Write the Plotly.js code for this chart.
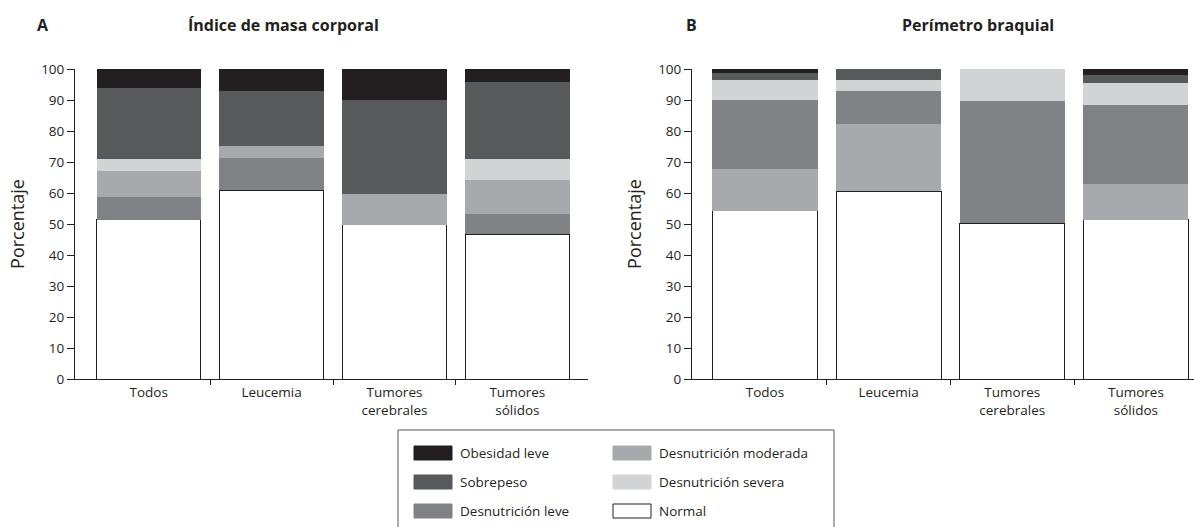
<!DOCTYPE html>
<html>
<head>
<meta charset="utf-8">
<script src="https://cdn.plot.ly/plotly-3.0.1.min.js"></script>
<style>html,body{margin:0;padding:0;background:#fff;}#chart{width:1194px;height:527px;}</style>
</head>
<body>
<div id="chart"></div>
<script>
// ---------- DATA ----------
const categories = ['Todos', 'Leucemia', 'Tumores<br>cerebrales', 'Tumores<br>sólidos'];
const yTicks = [0, 10, 20, 30, 40, 50, 60, 70, 80, 90, 100];

// Panel A: Índice de masa corporal (stack order bottom → top)
const normal_A      = [51.3, 60.9, 49.7, 46.7];
const desnLeve_A    = [7.4, 10.4, 0, 6.5];
const desnMod_A     = [8.5, 4.0, 10.0, 11.0];
const desnSev_A     = [3.8, 0, 0, 6.8];
const sobrepeso_A   = [22.9, 17.7, 30.3, 24.8];
const obesidad_A    = [6.1, 7.0, 10.0, 4.2];

// Panel B: Perímetro braquial (stack order bottom → top)
const normal_B      = [54.3, 60.6, 50.2, 51.3];
const desnMod_B     = [13.4, 21.7, 0, 11.7];
const desnLeve_B    = [22.3, 10.6, 39.6, 25.5];
const desnSev_B     = [6.5, 3.6, 10.2, 7.1];
const sobrepeso_B   = [2.2, 3.5, 0, 2.6];
const obesidad_B    = [1.3, 0, 0, 1.8];

const seriesNames = ['Obesidad leve', 'Sobrepeso', 'Desnutrición leve', 'Desnutrición moderada', 'Desnutrición severa', 'Normal'];
const panelTitles = ['Índice de masa corporal', 'Perímetro braquial'];
const panelLetters = ['A', 'B'];

// ---------- STYLE ----------
const COL = {
  'Obesidad leve': '#231f20',
  'Sobrepeso': '#58595b',
  'Desnutrición leve': '#808285',
  'Desnutrición moderada': '#a7a9ac',
  'Desnutrición severa': '#d1d3d4',
  'Normal': '#ffffff'
};
const INK = '#231f20';
const FONT = 'Open Sans, Noto Sans, sans-serif';

function bar(name, y, xa, ya) {
  const isNormal = name === 'Normal';
  return {
    type: 'bar', name: name, x: categories, y: y, xaxis: xa, yaxis: ya,
    marker: {color: COL[name], line: {color: isNormal ? INK : 'rgba(0,0,0,0)', width: isNormal ? 1 : 0}},
    showlegend: false, hoverinfo: 'skip'
  };
}

const traces = [
  bar('Normal', normal_A, 'x', 'y'),
  bar('Desnutrición leve', desnLeve_A, 'x', 'y'),
  bar('Desnutrición moderada', desnMod_A, 'x', 'y'),
  bar('Desnutrición severa', desnSev_A, 'x', 'y'),
  bar('Sobrepeso', sobrepeso_A, 'x', 'y'),
  bar('Obesidad leve', obesidad_A, 'x', 'y'),
  bar('Normal', normal_B, 'x2', 'y2'),
  bar('Desnutrición moderada', desnMod_B, 'x2', 'y2'),
  bar('Desnutrición leve', desnLeve_B, 'x2', 'y2'),
  bar('Desnutrición severa', desnSev_B, 'x2', 'y2'),
  bar('Sobrepeso', sobrepeso_B, 'x2', 'y2'),
  bar('Obesidad leve', obesidad_B, 'x2', 'y2'),
  // invisible traces so the tick-only overlay axes exist
  {type: 'scatter', x: [0], y: [0], xaxis: 'x3', yaxis: 'y', mode: 'markers', marker: {opacity: 0}, showlegend: false, hoverinfo: 'skip'},
  {type: 'scatter', x: [0], y: [0], xaxis: 'x4', yaxis: 'y2', mode: 'markers', marker: {opacity: 0}, showlegend: false, hoverinfo: 'skip'}
];

// ---------- LAYOUT ----------
const L = 75, T = 69, W = 1194 - 75, H = 310;
const px = x => (x - L) / W;
const py = y => (T + H - y) / H;

const rangeA = [-0.6, 3.575];
const rangeB = [-0.59, 3.47];
const domA = [0, px(588)];
const domB = [px(692), 1];

function catAxis(dom, rng, anchor) {
  return {
    domain: dom, range: rng, anchor: anchor, type: 'category',
    showline: true, linecolor: INK, linewidth: 1,
    ticks: 'outside', ticklen: 1, tickcolor: 'rgba(0,0,0,0)',
    tickfont: {family: FONT, size: 13.5, color: INK},
    showgrid: false, zeroline: false, fixedrange: true
  };
}
function tickAxis(over, rng, anchor) {
  return {
    overlaying: over, range: rng, anchor: anchor, type: 'linear',
    tickvals: [0.5, 1.5, 2.5], ticks: 'outside', ticklen: 5, tickwidth: 1, tickcolor: INK,
    showticklabels: false, showline: false, showgrid: false, zeroline: false, fixedrange: true
  };
}
function valAxis(anchor) {
  return {
    domain: [0, 1], range: [0, 100], anchor: anchor,
    tickvals: yTicks, ticks: 'outside', ticklen: 7, tickwidth: 1, tickcolor: INK,
    showline: true, linecolor: INK, linewidth: 1,
    tickfont: {family: FONT, size: 13.5, color: INK},
    title: {text: 'Porcentaje', font: {family: FONT, size: 18, color: INK}, standoff: 11},
    showgrid: false, zeroline: false, fixedrange: true
  };
}

const annotations = [
  {text: '<b>' + panelLetters[0] + '</b>', x: px(43), y: py(25)},
  {text: '<b>' + panelTitles[0] + '</b>', x: px(283), y: py(25)},
  {text: '<b>' + panelLetters[1] + '</b>', x: px(691), y: py(25)},
  {text: '<b>' + panelTitles[1] + '</b>', x: px(978), y: py(25)}
].map(a => Object.assign({xref: 'paper', yref: 'paper', xanchor: 'center', yanchor: 'middle', showarrow: false,
  font: {family: FONT, size: 16, color: INK}}, a));

// custom legend (2 columns x 3 rows)
const legendCols = [414, 613];
const legendRows = [453, 482, 511];
const legendOrder = [
  ['Obesidad leve', 0, 0], ['Sobrepeso', 0, 1], ['Desnutrición leve', 0, 2],
  ['Desnutrición moderada', 1, 0], ['Desnutrición severa', 1, 1], ['Normal', 1, 2]
];
const shapes = [{
  type: 'rect', xref: 'paper', yref: 'paper',
  x0: px(398), x1: px(834), y0: py(540), y1: py(430),
  line: {color: '#58595b', width: 1}, fillcolor: 'rgba(0,0,0,0)'
}];
legendOrder.forEach(([name, c, r]) => {
  const x0 = legendCols[c], yc = legendRows[r];
  shapes.push({
    type: 'rect', xref: 'paper', yref: 'paper',
    x0: px(x0), x1: px(x0 + 38), y0: py(yc + 7), y1: py(yc - 7),
    fillcolor: COL[name], line: {color: name === 'Normal' ? INK : COL[name], width: 1}
  });
  annotations.push({
    xref: 'paper', yref: 'paper', x: px(x0 + 44), y: py(yc), xanchor: 'left', yanchor: 'middle',
    text: name, showarrow: false, font: {family: FONT, size: 13.5, color: INK}
  });
});

const layout = {
  width: 1194, height: 527,
  margin: {l: L, r: 0, t: T, b: 527 - T - H, pad: 0},
  paper_bgcolor: '#fff', plot_bgcolor: 'rgba(0,0,0,0)',
  barmode: 'stack', bargap: 0.15,
  showlegend: false,
  xaxis: catAxis(domA, rangeA, 'y'),
  xaxis2: catAxis(domB, rangeB, 'y2'),
  xaxis3: tickAxis('x', rangeA, 'y'),
  xaxis4: tickAxis('x2', rangeB, 'y2'),
  yaxis: valAxis('x'),
  yaxis2: valAxis('x2'),
  annotations: annotations,
  shapes: shapes
};

Plotly.newPlot('chart', traces, layout, {staticPlot: true, displayModeBar: false});
</script>
</body>
</html>
